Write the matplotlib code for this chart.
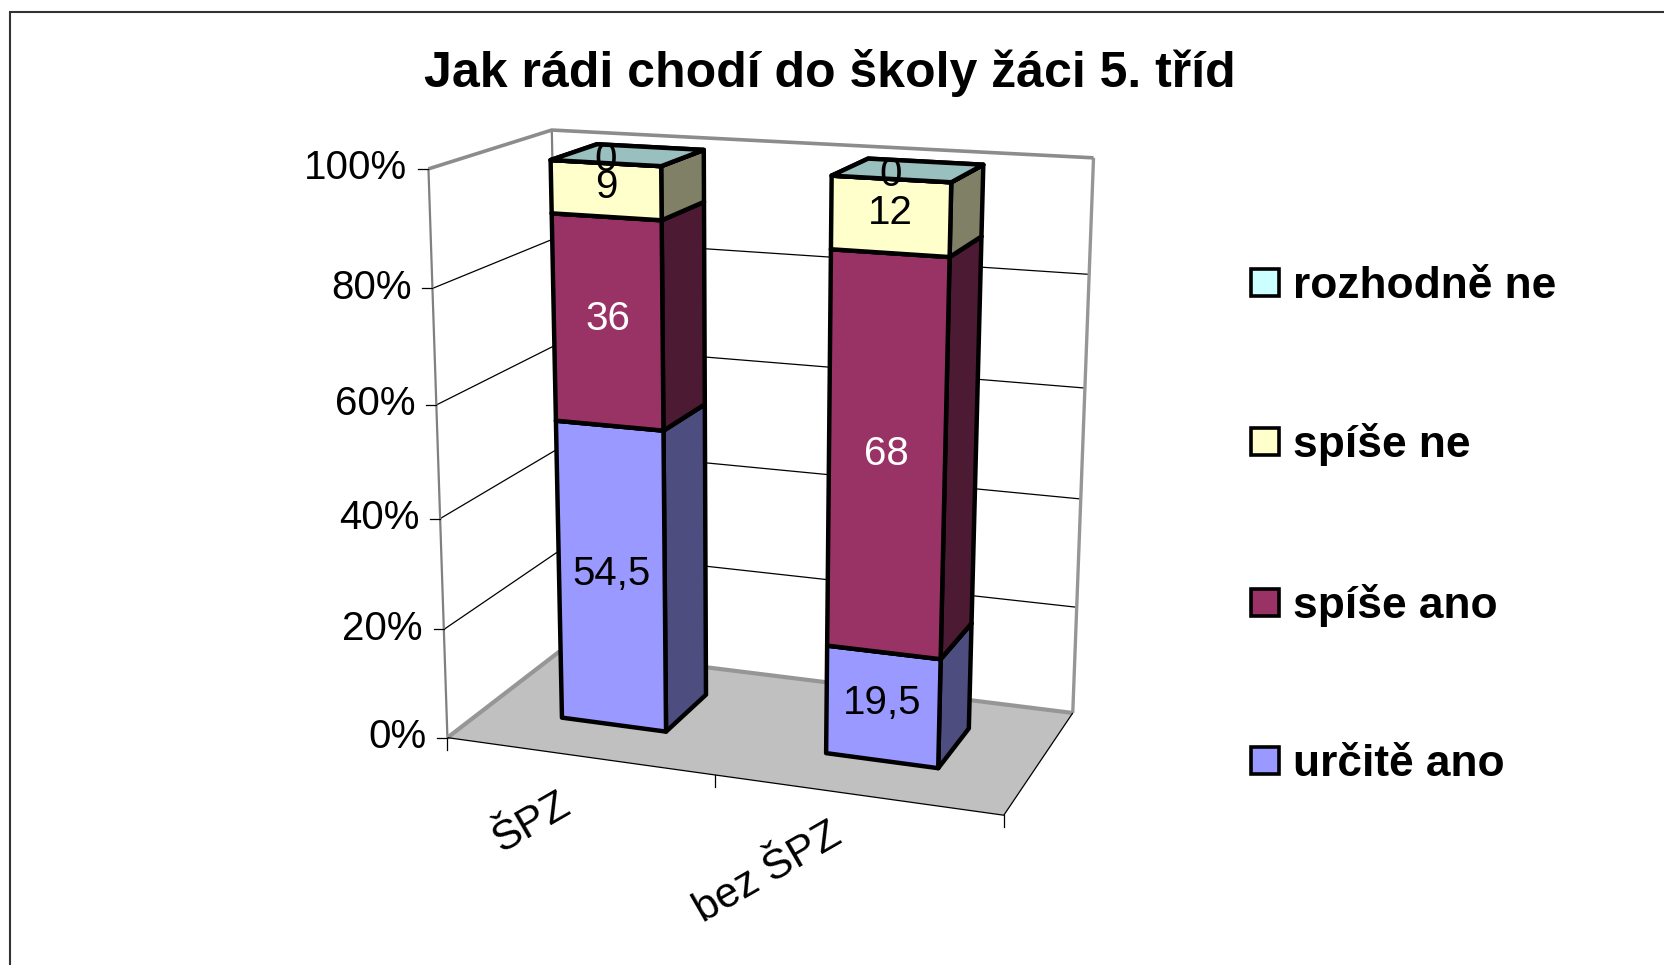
import numpy as np
import matplotlib
matplotlib.use('Agg')
import matplotlib.pyplot as plt
from matplotlib.patches import Polygon, Rectangle

plt.rcParams['font.family'] = ['Liberation Sans', 'DejaVu Sans']

# Data
categories = ['ŠPZ', 'bez ŠPZ']
series_names = ['určitě ano', 'spíše ano', 'spíše ne', 'rozhodně ne']
urcite_ano = [54.5, 19.5]
spise_ano = [36, 68]
spise_ne = [9, 12]
rozhodne_ne = [0, 0]
value_labels = [['54,5', '19,5'], ['36', '68'], ['9', '12'], ['0', '0']]
y_ticks = [0, 20, 40, 60, 80, 100]
colors = ['#9999FF', '#993366', '#FFFFCC', '#CCFFFF']
label_colors = ['black', 'white', 'black', 'black']

# Camera: world (category, percent, depth) -> figure pixels, fitted on the chart box corners
world_pts = [(0, 100, 0), (0, 100, 1), (2, 100, 1), (0, 0, 0), (2, 0, 0), (2, 0, 1), (0, 0, 1), (1, 0, 0)]
pixel_pts = [(426, 168.3), (554.5, 130.7), (1093, 157.7), (449.6, 736.7),
             (1002, 816.7), (1074, 711.7), (559, 650), (716.8, 775)]

rows = []
for (wx, wy, wz), (px, py) in zip(world_pts, pixel_pts):
    rows.append([wx, wy, wz, 1, 0, 0, 0, 0, -px * wx, -px * wy, -px * wz, -px])
    rows.append([0, 0, 0, 0, wx, wy, wz, 1, -py * wx, -py * wy, -py * wz, -py])
cam = np.linalg.svd(np.array(rows, dtype=float))[2][-1].reshape(3, 4)


def project(pts):
    pts = np.column_stack([np.atleast_2d(pts), np.ones(len(np.atleast_2d(pts)))])
    res = pts @ cam.T
    return res[:, :2] / res[:, 2:3]


def shade(color, f):
    return tuple(c * f for c in matplotlib.colors.to_rgb(color))


fig = plt.figure(figsize=(16.64, 9.65), dpi=100)
ax = fig.add_axes([0, 0, 1, 1])
ax.set_xlim(0, 1664)
ax.set_ylim(965, 0)
ax.axis('off')

# Outer frame, only left and top fall inside the picture
ax.plot([9.5, 9.5, 1664], [965, 11.5, 11.5], color='#333333', lw=1.5, solid_joinstyle='miter')

# Floor
ax.add_patch(Polygon(project([(0, 0, 0), (2, 0, 0), (2, 0, 1), (0, 0, 1)]), fc='#C0C0C0', ec='none'))


def line(pts, color, lw):
    xy = project(pts)
    ax.plot(xy[:, 0], xy[:, 1], color=color, lw=lw, solid_capstyle='butt', solid_joinstyle='miter')


# Gridlines
for v in y_ticks[1:-1]:
    line([(0, v, 0), (0, v, 1), (2, v, 1)], 'black', 0.9)

# Walls
line([(0, 0, 0), (0, 100, 0)], '#808080', 1.6)
line([(0, 0, 1), (0, 100, 1)], '#808080', 1.6)
line([(2, 0, 1), (2, 100, 1)], '#969696', 2.4)
line([(0, 100, 0), (0, 100, 1), (2, 100, 1)], '#8C8C8C', 2.6)
line([(0, 0, 0), (0, 0, 1), (2, 0, 1)], '#969696', 3.0)
line([(0, 0, 0), (2, 0, 0), (2, 0, 1)], 'black', 0.9)

# Axis ticks and labels
for v in y_ticks:
    x0, y0 = project((0, v, 0))[0]
    ax.plot([x0 - 10, x0], [y0, y0], color='black', lw=0.9)
    ax.text(x0 - 21, y0 - 0.5, f'{v}%', ha='right', va='center', fontsize=29)
for c in range(len(categories) + 1):
    x0, y0 = project((c, 0, 0))[0]
    ax.plot([x0, x0], [y0, y0 + 12], color='black', lw=0.9)

cat_label_pos = [(531, 823), (768, 873)]
for name, (lx, ly) in zip(categories, cat_label_pos):
    ax.text(lx, ly, name, ha='center', va='center', fontsize=30.5, rotation=30, rotation_mode='anchor')

# Bars
stack = np.array([urcite_ano, spise_ano, spise_ne, rozhodne_ne], dtype=float)
totals = stack.sum(axis=0)
bar_centers = [0.497, 1.49]
bar_half = 0.2
z0, z1 = 0.32, 0.72
for c in range(len(categories)):
    x0, x1 = bar_centers[c] - bar_half, bar_centers[c] + bar_half
    bottom = 0.0
    for s in range(len(series_names)):
        top = bottom + stack[s, c] / totals[c] * 100
        side = [(x1, bottom, z0), (x1, bottom, z1), (x1, top, z1), (x1, top, z0)]
        front = [(x0, bottom, z0), (x1, bottom, z0), (x1, top, z0), (x0, top, z0)]
        cap = [(x0, top, z0), (x1, top, z0), (x1, top, z1), (x0, top, z1)]
        for pts, f in ((side, 0.5), (front, 1.0), (cap, 0.75)):
            ax.add_patch(Polygon(project(pts), fc=shade(colors[s], f), ec='black', lw=3.2,
                                 joinstyle='round', zorder=3))
        bottom = top

# Value labels stay above every bar face
for c in range(len(categories)):
    bottom = 0.0
    for s in range(len(series_names)):
        top = bottom + stack[s, c] / totals[c] * 100
        lx, ly = project((bar_centers[c], (bottom + top) / 2, z0))[0]
        ax.text(lx, ly - 3.5, value_labels[s][c], ha='center', va='center', fontsize=29,
                color=label_colors[s], zorder=10)
        bottom = top

# Title
ax.text(829.5, 73, 'Jak rádi chodí do školy žáci 5. tříd', ha='center', va='center',
        fontsize=36, fontweight='bold')

# Legend
legend_center = [760.9, 602.8, 441.5, 282.3]
for s, cy in enumerate(legend_center):
    ax.add_patch(Rectangle((1250.5, cy - 13.5), 28, 27, fc=colors[s], ec='black', lw=2.6))
    ax.text(1293, cy + 15.5, series_names[s], ha='left', va='baseline', fontsize=31.9, fontweight='bold')

fig.savefig('out.png', dpi=100)
